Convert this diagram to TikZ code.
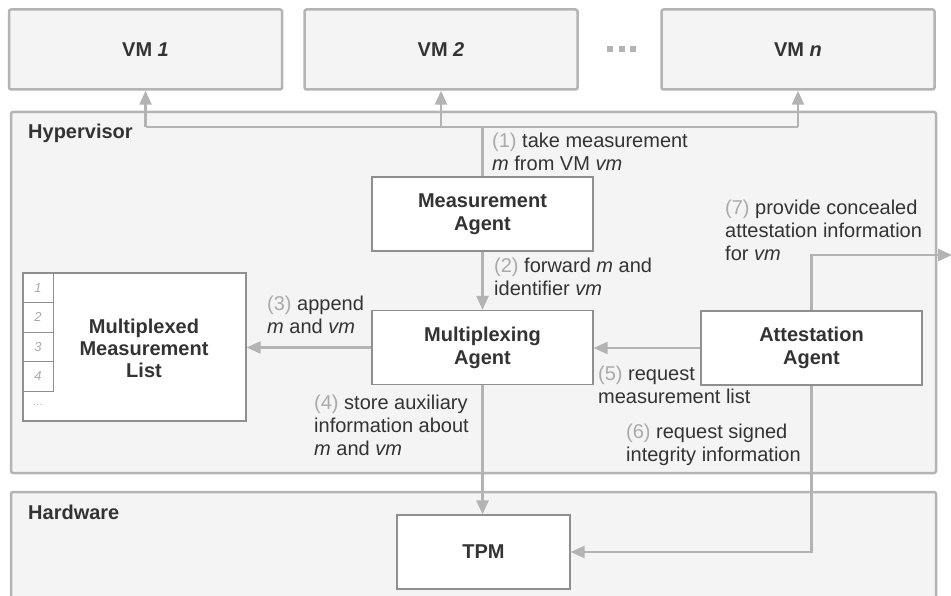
\documentclass[tikz,border=0pt]{standalone}
\usepackage{fontspec}
\setmainfont{Liberation Sans}
\usetikzlibrary{arrows.meta}

\definecolor{boxfill}{HTML}{F4F4F4}
\definecolor{frame}{HTML}{B4B4B4}
\definecolor{wire}{HTML}{B3B3B3}
\definecolor{agentline}{HTML}{8F8F8F}
\definecolor{ink}{HTML}{333333}
\definecolor{numgray}{HTML}{AAAAAA}

\newcommand{\stepno}[1]{\textcolor{numgray}{(#1)}}

\tikzset{
  txt/.style={font=\fontsize{20}{23}\selectfont, text=ink},
  container/.style={draw=frame, line width=2.5pt, fill=boxfill, rounded corners=2pt},
  vmbox/.style={container, txt, font=\fontsize{20}{23}\selectfont\bfseries,
    minimum width=273pt, minimum height=80pt, inner sep=0pt},
  agent/.style={draw=agentline, line width=1.2pt, fill=white, txt,
    font=\fontsize{20}{23}\selectfont\bfseries, align=center,
    minimum width=221pt, minimum height=74pt, inner sep=0pt},
  cell/.style={draw=agentline, line width=0.8pt, fill=white, text=numgray,
    font=\fontsize{13}{15}\selectfont\itshape, minimum width=30pt,
    minimum height=29.5pt, inner sep=0pt},
  lbl/.style={txt, align=left, anchor=west, inner sep=0pt,
    execute at begin node=\strut, execute at end node=\strut},
  heading/.style={txt, font=\fontsize{20}{23}\selectfont\bfseries, anchor=west, inner sep=0pt},
  wireline/.style={draw=wire, line width=2.5pt},
  arr/.style={wireline, -{Triangle[width=12pt,length=14pt]}},
}

\begin{document}
\begin{tikzpicture}[x=1pt, y=-1pt]
  \useasboundingbox (0,0) rectangle (951,596);
  \clip (0,0) rectangle (951,596);

  % layers: hypervisor and hardware
  \draw[container] (11,112) rectangle (936,473);
  \draw[container] (11,492) rectangle (936,620);
  \node[heading] (hvlabel) at (28,133) {Hypervisor};
  \node[heading] (hwlabel) at (28,512) {Hardware};

  % virtual machines
  \node[vmbox] (vm1) at (145.5,49.5) {VM \textit{1}};
  \node[vmbox] (vm2) at (441,49.5) {VM \textit{2}};
  \node[vmbox] (vmn) at (798,49.5) {VM \textit{n}};
  \foreach \dx in {610,621.5,633}
    \fill[wire] (\dx-3,46) rectangle (\dx+3,52);

  % agents and TPM
  \node[agent] (meas) at (482.5,214) {Measurement\\Agent};
  \node[agent] (mux) at (482.5,347.5) {Multiplexing\\Agent};
  \node[agent] (att) at (811.5,348) {Attestation\\Agent};
  \node[agent, minimum width=173pt] (tpm) at (483.5,552) {TPM};

  % measurement list with index column
  \node[agent, minimum width=223pt, minimum height=148pt] (list) at (134.5,347) {};
  \node[txt, font=\fontsize{20}{22}\selectfont\bfseries, align=center] (listtext)
    at (144,348) {Multiplexed\\Measurement\\List};
  \foreach \i in {1,...,4}
    \node[cell] (c\i) at (38,{273+29.5*(\i-0.5)}) {\i};
  \node[text=numgray, font=\fontsize{11}{13}\selectfont, inner sep=0pt] (more) at (38,405) {...};

  % (1) measurement bus to all VMs
  \coordinate (bus) at (0,127);
  \draw[wireline] (meas.north) -- (meas.north |- bus);
  \draw[wireline] (vm1.south |- bus) -- (vmn.south |- bus);
  \draw[arr] (vm1.south |- bus) -- (vm1.south);
  \draw[arr] (vm2.south |- bus) -- (vm2.south);
  \draw[arr] (vmn.south |- bus) -- (vmn.south);

  % remaining steps
  \draw[arr] (meas.south) -- (mux.north);
  \draw[arr] (mux.west) -- (mux.west -| list.east);
  \draw[arr] (mux.south) -- (mux.south |- tpm.north);
  \draw[arr] (att.west) -- (att.west -| mux.east);
  \draw[arr] (att.south) |- (tpm.east);
  \coordinate (exit) at (952,255);
  \draw[arr] (att.north) |- (exit);

  % step labels
  \node[lbl] (l1) at (492,155) {\stepno{1} take measurement\\\textit{m} from VM \textit{vm}};
  \node[lbl] (l2) at (494,280.5) {\stepno{2} forward \textit{m} and\\identifier \textit{vm}};
  \node[lbl] (l3) at (267,318.5) {\stepno{3} append\\\textit{m} and \textit{vm}};
  \node[lbl] (l4) at (314,429) {\stepno{4} store auxiliary\\information about\\\textit{m} and \textit{vm}};
  \node[lbl] (l5) at (598,388.5) {\stepno{5} request\\measurement list};
  \node[lbl] (l6) at (626,446) {\stepno{6} request signed\\integrity information};
  \node[lbl] (l7) at (725,234) {\stepno{7} provide concealed\\attestation information\\for \textit{vm}};
\end{tikzpicture}
\end{document}
